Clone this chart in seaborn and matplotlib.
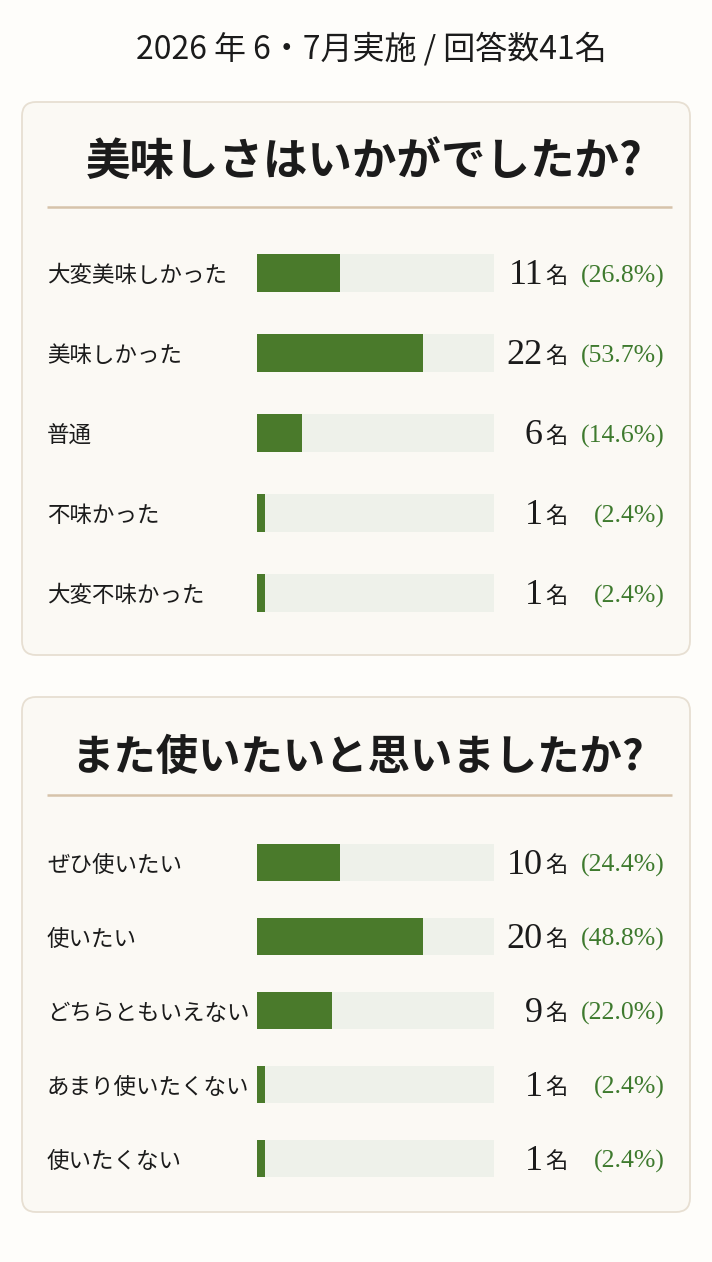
import matplotlib
matplotlib.use("Agg")
import matplotlib.pyplot as plt
from matplotlib.patches import FancyBboxPatch
import seaborn as sns
import pandas as pd

# ---- data ----
header_text = "2026 年 6・7月実施 / 回答数41名"
q1_title = "美味しさはいかがでしたか?"
q1_labels = ["大変美味しかった", "美味しかった", "普通", "不味かった", "大変不味かった"]
q1_counts = [11, 22, 6, 1, 1]
q1_pcts = [26.8, 53.7, 14.6, 2.4, 2.4]

q2_title = "また使いたいと思いましたか?"
q2_labels = ["ぜひ使いたい", "使いたい", "どちらともいえない", "あまり使いたくない", "使いたくない"]
q2_counts = [10, 20, 9, 1, 1]
q2_pcts = [24.4, 48.8, 22.0, 2.4, 2.4]

# ---- style ----
sns.set_theme(style="white")
JP = ["Noto Sans CJK JP", "DejaVu Sans"]
SERIF = ["Liberation Serif", "DejaVu Serif"]
plt.rcParams["font.family"] = JP

W, H = 712, 1262
FIG_BG = "#fefdfa"
PANEL_BG = "#fbf9f4"
PANEL_EDGE = "#e7dfd2"
DIVIDER = "#d6c3aa"
BAR = "#4a7a2b"
TRACK = "#eef1ea"
PCT = "#3e7a2e"
TXT = "#1b1b1b"

fig = plt.figure(figsize=(W / 100, H / 100), dpi=100, facecolor=FIG_BG)
bg = fig.add_axes([0, 0, 1, 1])
bg.set_xlim(0, W)
bg.set_ylim(H, 0)
bg.axis("off")

bg.text(371, 49, header_text, ha="center", va="center", fontsize=23, color=TXT, family=JP)


def panel(top, bottom, title, title_x, title_y, title_fs, div_y, labels, counts, pcts,
          y0, step, bar_h, scale):
    box = FancyBboxPatch((22, top), 668, bottom - top,
                         boxstyle="round,pad=0,rounding_size=14",
                         facecolor=PANEL_BG, edgecolor=PANEL_EDGE, linewidth=1.3)
    bg.add_patch(box)
    bg.text(title_x, title_y, title, ha="center", va="center", fontsize=title_fs,
            fontweight="bold", color=TXT, family=JP)
    bg.plot([47, 672], [div_y, div_y], color=DIVIDER, lw=1.8, solid_capstyle="butt")

    x0, x1 = 257, 494
    ytop = y0 - step / 2
    ybot = y0 + step * 4.5
    ax = fig.add_axes([x0 / W, 1 - ybot / H, (x1 - x0) / W, (ybot - ytop) / H])
    ax.patch.set_alpha(0)
    df = pd.DataFrame({"label": labels, "count": counts})
    df["track"] = scale
    sns.barplot(data=df, x="track", y="label", orient="h", color=TRACK,
                saturation=1, width=bar_h / step, ax=ax, linewidth=0)
    sns.barplot(data=df, x="count", y="label", orient="h", color=BAR,
                saturation=1, width=bar_h / step, ax=ax, linewidth=0)
    ax.set_xlim(0, scale)
    ax.set_ylim(4.5, -0.5)
    ax.axis("off")

    for i, (lab, c, p) in enumerate(zip(labels, counts, pcts)):
        yc = y0 + i * step
        bg.text(47, yc + 3, lab, ha="left", va="center", fontsize=16.2, color=TXT, family=JP)
        bg.text(543, yc + 3, str(c), ha="right", va="center", fontsize=26, color=TXT, family=SERIF)
        bg.text(545, yc + 3, "名", ha="left", va="center", fontsize=16, color=TXT, family=JP)
        bg.text(665, yc + 3, f"({p:.1f}%)", ha="right", va="center", fontsize=18.5, color=PCT, family=SERIF)


panel(102, 655, q1_title, 364, 162, 32, 207, q1_labels, q1_counts, q1_pcts, 273, 80, 38, 31.5)
panel(697, 1212, q2_title, 358, 758, 30.5, 795, q2_labels, q2_counts, q2_pcts, 862, 74, 37, 28.5)

fig.savefig("out.png", dpi=100, facecolor=FIG_BG)
